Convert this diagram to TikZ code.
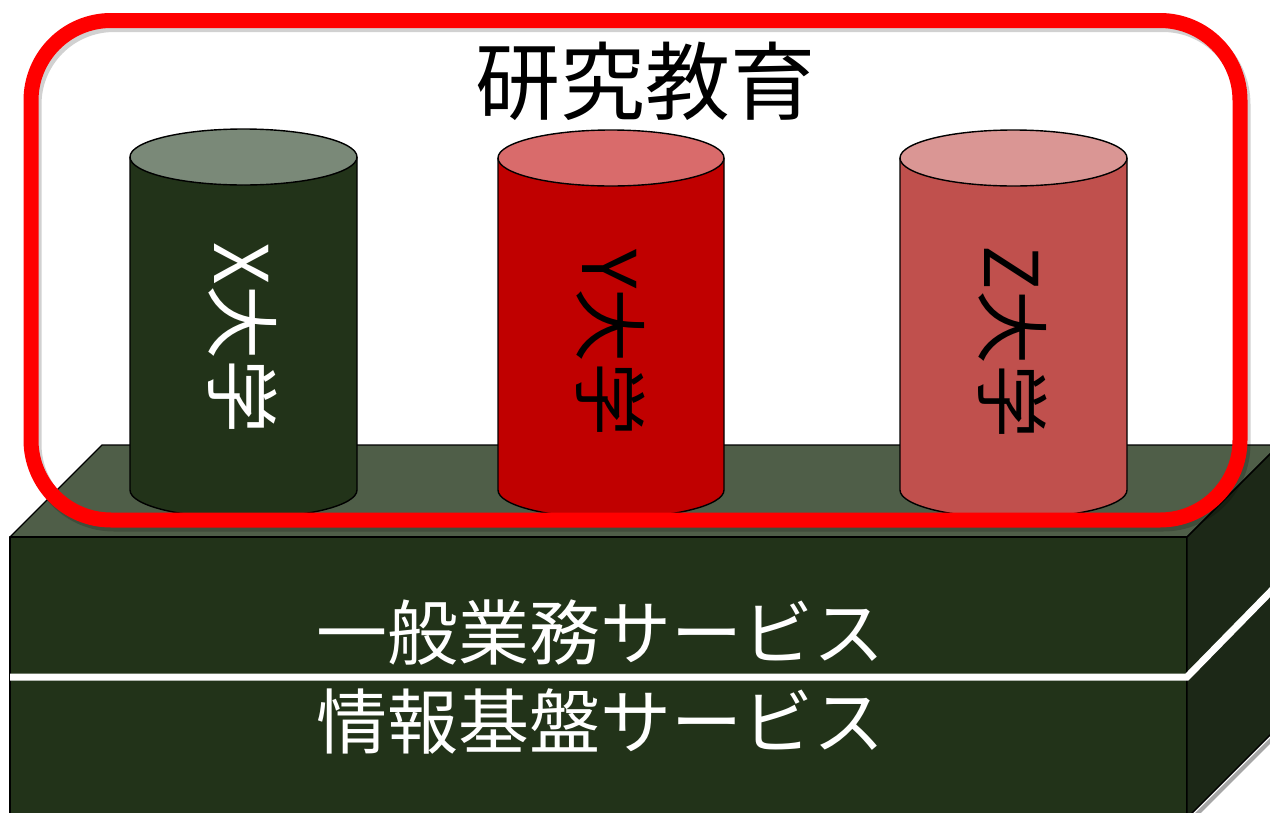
\documentclass[tikz,border=0pt]{standalone}
\usepackage{fontspec}
\setmainfont{Noto Sans CJK JP}
\definecolor{slabtop}{HTML}{4F5E48}
\definecolor{slabfront}{HTML}{223319}
\definecolor{slabside}{HTML}{1C2817}
\definecolor{xtop}{HTML}{7A8978}
\definecolor{ybody}{HTML}{C00000}
\definecolor{ytop}{HTML}{D96B6B}
\definecolor{zbody}{HTML}{C0504D}
\definecolor{ztop}{HTML}{DA9694}
\definecolor{frame}{HTML}{FF0000}
\tikzset{
  edge/.style={draw=black, line width=1.4pt, line join=round},
  bigtext/.style={font=\fontsize{71}{80}\selectfont, text=white, inner sep=0pt},
  cyltext/.style={font=\fontsize{74}{80}\selectfont, rotate=-90, inner sep=0pt},
  titletext/.style={font=\fontsize{85}{95}\selectfont, text=black, inner sep=0pt},
}
\newcommand\mycyl[6]{% cx, rx, topc, botc, body, top
  \fill[#5] (#1-#2,#3) -- (#1-#2,#4) arc[start angle=180,end angle=360,x radius=#2pt,y radius=28pt] -- (#1+#2,#3) -- cycle;
  \draw[edge] (#1-#2,#3) -- (#1-#2,#4) arc[start angle=180,end angle=360,x radius=#2pt,y radius=28pt] -- (#1+#2,#3);
  \filldraw[edge, fill=#6] (#1,#3) ellipse[x radius=#2pt, y radius=28pt];
}
\begin{document}
\begin{tikzpicture}[x=1pt,y=-1pt]
\useasboundingbox (0,0) rectangle (1270,812);
\clip (0,0) rectangle (1270,812);
\fill[white] (0,0) rectangle (1270,812);
% slab shadow
\draw[black!35, line width=4pt] (1190,821) -- (1282,729);
% slab
\filldraw[edge, fill=slabtop] (10,537) -- (102,445) -- (1279,445) -- (1187,537) -- cycle;
\filldraw[edge, fill=slabfront] (10,537) rectangle (1187,818);
\filldraw[edge, fill=slabside] (1187,537) -- (1279,445) -- (1279,726) -- (1187,818) -- cycle;
\draw[white, line width=7pt] (10,677) -- (1187,677) -- (1279,583);
\node[bigtext] (gen) at (600,633) {一般業務サービス};
\node[bigtext] (inf) at (600,722) {情報基盤サービス};
% cylinders
\mycyl{243.5}{113.5}{157}{490}{slabfront}{xtop}
\mycyl{611}{113}{158}{490}{ybody}{ytop}
\mycyl{1013.5}{113.5}{158}{490}{zbody}{ztop}
\node[cyltext, text=white] (xu) at (243,338) {X大学};
\node[cyltext, text=black] (yu) at (611,343) {Y大学};
\node[cyltext, text=black] (zu) at (1013,342) {Z大学};
% frame
\draw[black, opacity=0.18, line width=15pt, rounded corners=80pt] (34,24.5) rectangle (1243,524);
\draw[frame, line width=15pt, rounded corners=80pt] (31,20.5) rectangle (1240,520);
\node[titletext] (title) at (645,81) {研究教育};
\end{tikzpicture}
\end{document}
